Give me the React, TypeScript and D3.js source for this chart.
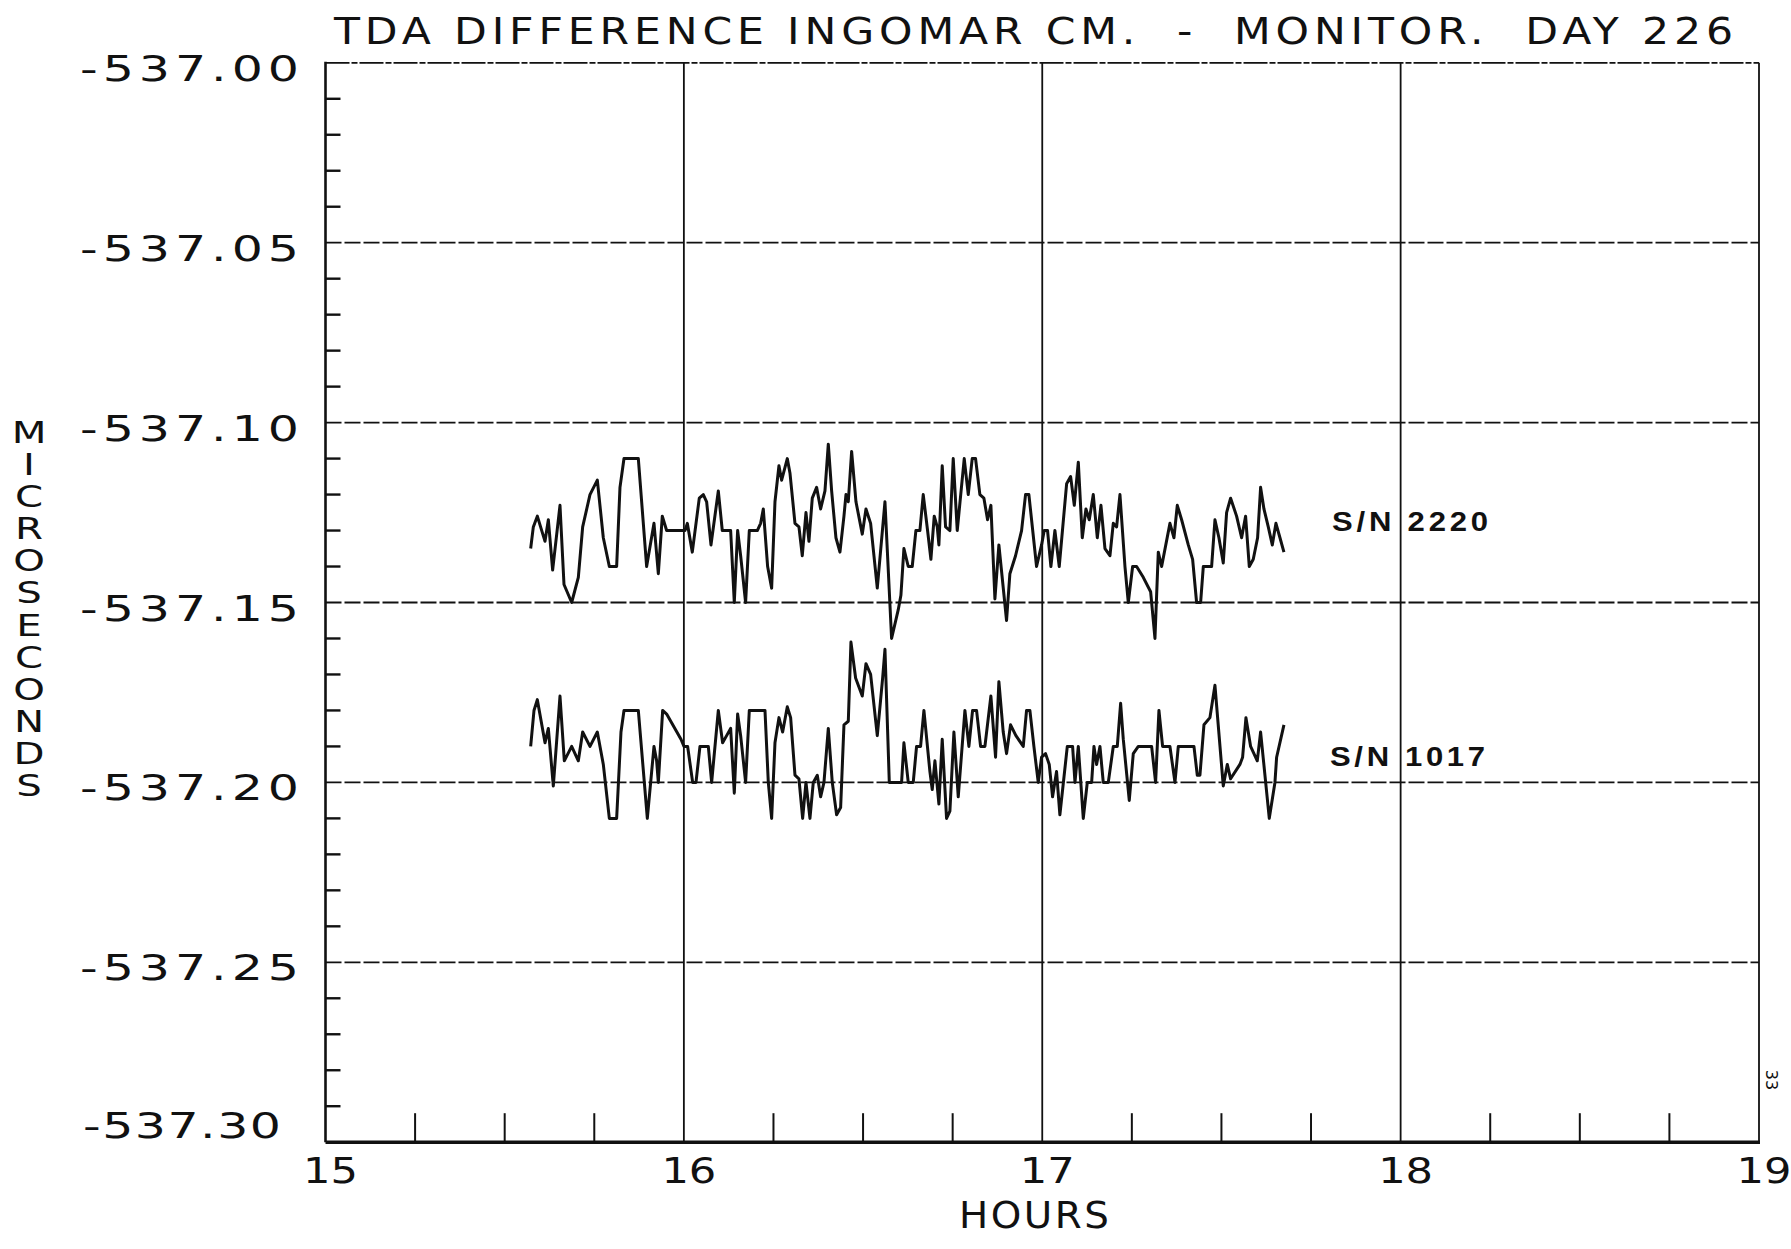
import React from "react";
import * as d3 from "d3";

// ---- data (hours, microseconds) ----
const hours2220 = [
  15.5725, 15.5799, 15.5911, 15.6125, 15.6218, 15.6338, 15.6543, 15.6655, 15.6869, 15.7055,
  15.7176, 15.738, 15.7585, 15.7752, 15.792, 15.8124, 15.8217, 15.8329, 15.8729, 15.8961,
  15.9166, 15.9287, 15.9398, 15.9519, 16.0031, 16.0096, 16.0235, 16.043, 16.0542, 16.0635,
  16.0756, 16.0961, 16.1072, 16.1305, 16.1407, 16.15, 16.1584, 16.1723, 16.1826, 16.2049,
  16.2142, 16.2216, 16.2337, 16.2449, 16.2542, 16.2653, 16.2728, 16.2886, 16.296, 16.31,
  16.3211, 16.3304, 16.3407, 16.349, 16.3583, 16.3704, 16.3816, 16.3937, 16.403, 16.4123,
  16.4243, 16.4355, 16.4467, 16.4523, 16.4588, 16.4681, 16.4802, 16.4978, 16.5081, 16.5211,
  16.5397, 16.5611, 16.5796, 16.5982, 16.6056, 16.614, 16.6261, 16.6372, 16.6474, 16.6586,
  16.6679, 16.68, 16.6893, 16.6986, 16.707, 16.7116, 16.7209, 16.7302, 16.7423, 16.7516,
  16.7628, 16.7823, 16.7935, 16.8046, 16.8139, 16.826, 16.8372, 16.8474, 16.8567, 16.8679,
  16.879, 16.9004, 16.9097, 16.9255, 16.9423, 16.9534, 16.9627, 16.9841, 16.9981, 17.0055,
  17.0148, 17.0241, 17.0353, 17.0474, 17.068, 17.0792, 17.0894, 17.1006, 17.1117, 17.1219,
  17.1312, 17.1424, 17.1536, 17.1638, 17.175, 17.1889, 17.1982, 17.2075, 17.2168, 17.2308,
  17.2401, 17.2522, 17.2633, 17.2819, 17.3024, 17.3145, 17.3238, 17.3331, 17.3563, 17.3675,
  17.3768, 17.3889, 17.4075, 17.4196, 17.4307, 17.4419, 17.4494, 17.4726, 17.4819, 17.493,
  17.5051, 17.5144, 17.5256, 17.5423, 17.5563, 17.5674, 17.5777, 17.5888, 17.6009, 17.6093,
  17.6186, 17.6307, 17.6419, 17.6521, 17.6633, 17.6744,
];
const values2220 = [
  -537.135, -537.129, -537.126, -537.133, -537.127, -537.141, -537.123, -537.145, -537.15, -537.143,
  -537.129, -537.12, -537.116, -537.132, -537.14, -537.14, -537.118, -537.11, -537.11, -537.14,
  -537.128, -537.142, -537.126, -537.13, -537.13, -537.128, -537.136, -537.121, -537.12, -537.122,
  -537.134, -537.119, -537.13, -537.13, -537.15, -537.13, -537.137, -537.15, -537.13, -537.13,
  -537.128, -537.124, -537.14, -537.146, -537.122, -537.112, -537.116, -537.11, -537.114, -537.128,
  -537.129, -537.137, -537.125, -537.133, -537.121, -537.118, -537.124, -537.119, -537.106, -537.119,
  -537.132, -537.136, -537.126, -537.12, -537.122, -537.108, -537.122, -537.131, -537.124, -537.128,
  -537.146, -537.122, -537.16, -537.152, -537.148, -537.135, -537.14, -537.14, -537.13, -537.13,
  -537.12, -537.13, -537.138, -537.126, -537.129, -537.134, -537.112, -537.129, -537.13, -537.11,
  -537.13, -537.11, -537.12, -537.11, -537.11, -537.12, -537.121, -537.127, -537.123, -537.149,
  -537.134, -537.155, -537.142, -537.137, -537.13, -537.12, -537.12, -537.14, -537.134, -537.13,
  -537.13, -537.14, -537.13, -537.14, -537.117, -537.115, -537.123, -537.111, -537.132, -537.124,
  -537.127, -537.12, -537.132, -537.123, -537.135, -537.137, -537.128, -537.129, -537.12, -537.14,
  -537.15, -537.14, -537.14, -537.143, -537.147, -537.16, -537.136, -537.14, -537.128, -537.132,
  -537.123, -537.127, -537.134, -537.138, -537.15, -537.15, -537.14, -537.14, -537.127, -537.132,
  -537.139, -537.125, -537.121, -537.126, -537.132, -537.126, -537.14, -537.138, -537.132, -537.118,
  -537.124, -537.129, -537.134, -537.128, -537.132, -537.136,
];

const hours1017 = [
  15.5725, 15.5818, 15.5911, 15.6125, 15.6218, 15.6357, 15.6543, 15.6664, 15.6869, 15.7055,
  15.7176, 15.738, 15.7585, 15.7752, 15.792, 15.8124, 15.8245, 15.8329, 15.8729, 15.898,
  15.9101, 15.9166, 15.924, 15.9287, 15.9408, 15.9519, 15.9919, 16.0003, 16.0105, 16.0245,
  16.0338, 16.0449, 16.0682, 16.0775, 16.0961, 16.1081, 16.1193, 16.1305, 16.1407, 16.15,
  16.1584, 16.1723, 16.1826, 16.2263, 16.2356, 16.2449, 16.2542, 16.2653, 16.2756, 16.2886,
  16.2979, 16.31, 16.3211, 16.3314, 16.3407, 16.3518, 16.3611, 16.3723, 16.3816, 16.3909,
  16.403, 16.4141, 16.4262, 16.4374, 16.4467, 16.4588, 16.4662, 16.4792, 16.4978, 16.5081,
  16.5211, 16.5397, 16.5546, 16.5611, 16.5732, 16.6075, 16.614, 16.6261, 16.64, 16.6493,
  16.6605, 16.6698, 16.6865, 16.693, 16.7005, 16.7051, 16.7116, 16.7209, 16.733, 16.7423,
  16.7535, 16.7656, 16.7842, 16.7953, 16.8056, 16.8167, 16.8279, 16.84, 16.8567, 16.8697,
  16.879, 16.8911, 16.9004, 16.9116, 16.9265, 16.947, 16.9562, 16.9655, 16.9767, 16.9888,
  16.9981, 17.0092, 17.0195, 17.0288, 17.0399, 17.0492, 17.0699, 17.0847, 17.0913, 17.1006,
  17.1145, 17.1257, 17.1378, 17.1443, 17.1517, 17.161, 17.1703, 17.1843, 17.1982, 17.2094,
  17.2187, 17.2261, 17.2428, 17.254, 17.268, 17.3052, 17.3163, 17.3256, 17.3358, 17.3563,
  17.3703, 17.3796, 17.4233, 17.4326, 17.44, 17.4512, 17.4679, 17.4819, 17.5051, 17.5163,
  17.5256, 17.5516, 17.5591, 17.5684, 17.5814, 17.6, 17.6093, 17.6335, 17.6493, 17.654,
  17.6744,
];
const values1017 = [
  -537.19, -537.18, -537.177, -537.189, -537.185, -537.201, -537.176, -537.194, -537.19, -537.194,
  -537.186, -537.19, -537.186, -537.195, -537.21, -537.21, -537.186, -537.18, -537.18, -537.21,
  -537.197, -537.19, -537.194, -537.2, -537.18, -537.181, -537.188, -537.19, -537.19, -537.2,
  -537.2, -537.19, -537.19, -537.2, -537.18, -537.189, -537.187, -537.185, -537.203, -537.181,
  -537.187, -537.2, -537.18, -537.18, -537.2, -537.21, -537.189, -537.182, -537.186, -537.179,
  -537.182, -537.198, -537.199, -537.21, -537.2, -537.21, -537.2, -537.198, -537.204, -537.2,
  -537.185, -537.2, -537.209, -537.207, -537.184, -537.183, -537.161, -537.171, -537.176, -537.167,
  -537.17, -537.187, -537.171, -537.163, -537.2, -537.2, -537.189, -537.2, -537.2, -537.19,
  -537.19, -537.18, -537.197, -537.202, -537.194, -537.199, -537.206, -537.188, -537.21, -537.208,
  -537.186, -537.204, -537.18, -537.19, -537.18, -537.18, -537.19, -537.19, -537.176, -537.193,
  -537.172, -537.186, -537.192, -537.184, -537.187, -537.19, -537.18, -537.18, -537.19, -537.2,
  -537.193, -537.192, -537.195, -537.204, -537.197, -537.209, -537.19, -537.19, -537.2, -537.19,
  -537.21, -537.2, -537.2, -537.19, -537.195, -537.19, -537.2, -537.2, -537.19, -537.19,
  -537.178, -537.188, -537.205, -537.192, -537.19, -537.19, -537.2, -537.18, -537.19, -537.19,
  -537.2, -537.19, -537.19, -537.198, -537.198, -537.184, -537.182, -537.173, -537.201, -537.195,
  -537.199, -537.195, -537.193, -537.182, -537.19, -537.194, -537.186, -537.21, -537.2, -537.193,
  -537.184,
];

const xTickValues = [15, 16, 17, 18, 19];
const xTickLabels = ["15", "16", "17", "18", "19"];
const yTickValues = [-537.0, -537.05, -537.1, -537.15, -537.2, -537.25, -537.3];
const yTickLabels = ["-537.00", "-537.05", "-537.10", "-537.15", "-537.20", "-537.25", "-537.30"];

const seriesLabels = ["S/N 2220", "S/N 1017"];
const titleText = "TDA DIFFERENCE INGOMAR CM.  -  MONITOR.  DAY 226";
const xTitle = "HOURS";
const yTitle = "MICROSECONDS";

const FONT = "'DejaVu Sans', sans-serif";
const INK = "#111";

type STProps = {
  x: number;
  y: number;
  sx: number;
  size: number;
  length?: number;
  anchor?: "start" | "middle" | "end";
  family?: string;
  weight?: string;
  children: React.ReactNode;
};

function StretchText({ x, y, sx, size, length, anchor = "start", family = FONT, weight = "normal", children }: STProps) {
  return (
    <g transform={`translate(${x},${y}) scale(${sx},1)`}>
      <text
        x={0}
        y={0}
        fontFamily={family}
        fontWeight={weight}
        fontSize={size}
        fill={INK}
        textAnchor={anchor}
        textLength={length ? length / sx : undefined}
        lengthAdjust={length ? "spacing" : undefined}
        style={{ whiteSpace: "pre" }}
      >
        {children}
      </text>
    </g>
  );
}

export default function App() {
  const W = 1791;
  const H = 1249;
  const left = 325.5;
  const right = 1759;
  const top = 62.8;
  const bottom = 1142.2;

  const x = d3.scaleLinear().domain([15, 19]).range([left, right]);
  const y = d3.scaleLinear().domain([-537.3, -537.0]).range([bottom, top]);

  const line = d3
    .line<[number, number]>()
    .x((d) => x(d[0]))
    .y((d) => y(d[1]));

  const s2220: [number, number][] = hours2220.map((h, i) => [h, values2220[i]]);
  const s1017: [number, number][] = hours1017.map((h, i) => [h, values1017[i]]);

  const yMinor = d3.range(1, 30).filter((i) => i % 5 !== 0).map((i) => -537.3 + i * 0.01);
  const xMinor = d3.range(1, 16).filter((i) => i % 4 !== 0).map((i) => 15 + i * 0.25);

  return (
    <svg
      width={W}
      height={H}
      style={{ position: "absolute", left: 0, top: 0, background: "#fff" }}
      xmlns="http://www.w3.org/2000/svg"
    >
      <rect x={0} y={0} width={W} height={H} fill="#fff" />

      {/* horizontal dashed gridlines */}
      {yTickValues.slice(1, 6).map((v) => (
        <line
          key={"hg" + v}
          x1={left}
          x2={right}
          y1={y(v)}
          y2={y(v)}
          stroke={INK}
          strokeWidth={1.8}
          strokeDasharray="16,3"
        />
      ))}
      {/* top border dashed */}
      <line x1={left} x2={right} y1={y(-537.0)} y2={y(-537.0)} stroke={INK} strokeWidth={1.8} strokeDasharray="24,2,6,2" />

      {/* vertical gridlines */}
      {xTickValues.slice(1, 4).map((v) => (
        <line key={"vg" + v} x1={x(v)} x2={x(v)} y1={top} y2={bottom} stroke={INK} strokeWidth={1.8} />
      ))}
      {/* right border */}
      <line x1={right} x2={right} y1={top} y2={bottom} stroke={INK} strokeWidth={1.8} />

      {/* left axis */}
      <line x1={left} x2={left} y1={top - 1} y2={bottom} stroke={INK} strokeWidth={2.6} />
      {yMinor.map((v) => (
        <line key={"ym" + v} x1={left} x2={left + 15} y1={y(v)} y2={y(v)} stroke={INK} strokeWidth={2.4} />
      ))}

      {/* bottom axis */}
      <line x1={left} x2={right + 1} y1={bottom} y2={bottom} stroke={INK} strokeWidth={3.4} />
      {xMinor.map((v) => (
        <line key={"xm" + v} x1={x(v)} x2={x(v)} y1={bottom} y2={bottom - 29} stroke={INK} strokeWidth={2} />
      ))}

      {/* y tick labels */}
      {yTickValues.map((v, i) => {
        const last = i === yTickValues.length - 1;
        return (
          <StretchText
            key={"yl" + v}
            x={last ? 83 : 80}
            y={y(v) + (last ? -4 : 18)}
            sx={1.4}
            size={35}
            length={last ? 198 : 219}
          >
            {yTickLabels[i]}
          </StretchText>
        );
      })}

      {/* x tick labels */}
      {xTickValues.map((v, i) => (
        <StretchText key={"xl" + v} x={x(v) + 5} y={bottom + 41} sx={1.2} size={36} anchor="middle">
          {xTickLabels[i]}
        </StretchText>
      ))}

      {/* axis titles */}
      <StretchText x={1034} y={1228} sx={1.05} size={37} anchor="middle" length={150}>
        {xTitle}
      </StretchText>
      <g transform="translate(29,0) scale(1.3,1)">
        <text x={0} y={443} fontFamily={FONT} fontSize={31} fill={INK} textAnchor="middle">
          {yTitle.split("").map((c, i) => (
            <tspan key={"yt" + i} x={0} y={443 + i * 32.1}>
              {c}
            </tspan>
          ))}
        </text>
      </g>

      {/* title */}
      <StretchText x={334} y={44} sx={1.15} size={37} length={1399}>
        {titleText}
      </StretchText>

      {/* series */}
      <path d={line(s2220) || ""} fill="none" stroke={INK} strokeWidth={3} strokeLinejoin="round" />
      <path d={line(s1017) || ""} fill="none" stroke={INK} strokeWidth={3} strokeLinejoin="round" />

      {/* series labels */}
      <StretchText
        x={1332}
        y={531}
        sx={1.15}
        size={27}
        length={156}
        family="'Liberation Sans', Arial, sans-serif"
        weight="bold"
      >
        {seriesLabels[0]}
      </StretchText>
      <StretchText
        x={1330}
        y={766}
        sx={1.15}
        size={27}
        length={155}
        family="'Liberation Sans', Arial, sans-serif"
        weight="bold"
      >
        {seriesLabels[1]}
      </StretchText>

      {/* page number */}
      <text
        x={1766}
        y={1080}
        fontFamily={FONT}
        fontSize={16}
        fill={INK}
        textAnchor="middle"
        transform="rotate(90 1766 1080)"
      >
        33
      </text>
    </svg>
  );
}
